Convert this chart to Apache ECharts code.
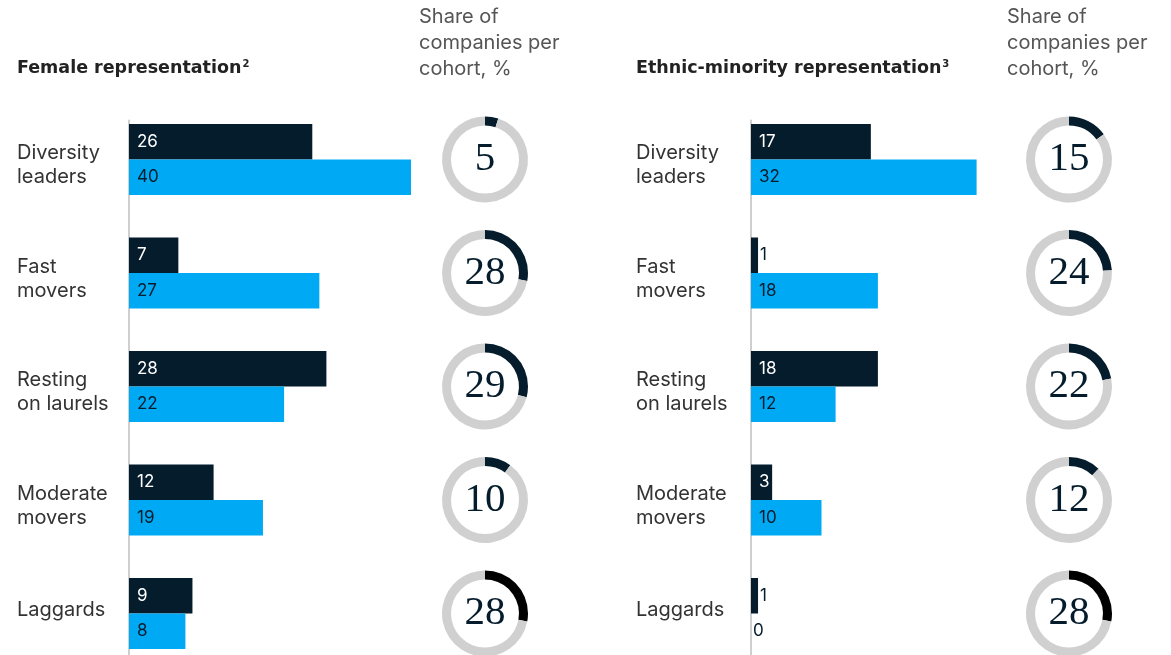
<!DOCTYPE html>
<html lang="en">
<head>
<meta charset="UTF-8"/>
<title>Representation by cohort</title>
<script src="https://cdn.jsdelivr.net/npm/echarts@6/dist/echarts.min.js"></script>
<style>
  body { margin: 0; background: #fff; }
  #main { width: 1171px; height: 655px; }
</style>
</head>
<body>
<div id="main"></div>
<script type="text/javascript">
// cohorts (top to bottom)
var categories = ['Diversity\nleaders', 'Fast\nmovers', 'Resting\non laurels', 'Moderate\nmovers', 'Laggards'];
// female representation, %: dark = earlier year, blue = latest year
var femaleEarlier = [26, 7, 28, 12, 9];
var femaleLatest = [40, 27, 22, 19, 8];
// ethnic-minority representation, %
var ethnicEarlier = [17, 1, 18, 3, 1];
var ethnicLatest = [32, 18, 12, 10, 0];
// share of companies per cohort, %
var femaleShare = [5, 28, 29, 10, 28];
var ethnicShare = [15, 24, 22, 12, 28];

var NAVY = '#051c2c';
var BLUE = '#00a9f4';
var RING = '#d0d0d0';
var SANS = 'Inter, "Open Sans", sans-serif';

var myChart = echarts.init(document.getElementById('main'));

// layout of the bar panels
var gridTop = 120.5;
var band = 113.5;
var barW = 35.5;
var panels = [
  { left: 129, donutX: 485, title: 'Female representation', sup: '2', titleX: 17, shareX: 419, earlier: femaleEarlier, latest: femaleLatest, share: femaleShare },
  { left: 751, donutX: 1069, title: 'Ethnic-minority representation', sup: '3', titleX: 636, shareX: 1007, earlier: ethnicEarlier, latest: ethnicLatest, share: ethnicShare }
];

function barData(values, inside) {
  return values.map(function (v) {
    if (v < 3) {
      return { value: v, label: { position: 'right', distance: 2, color: NAVY } };
    }
    return { value: v, label: { position: 'insideLeft', distance: 8, color: inside } };
  });
}

// category label sits level with the bar pair, not the whole band
function catLabel(v) {
  var lines = v.split('\n');
  return lines.map(function (l) { return '{a|' + l + '}'; }).join('\n') +
    '\n{' + (lines.length > 1 ? 'g' : 'h') + '| }';
}

var option = {
  backgroundColor: '#fff',
  animation: false,
  title: [],
  grid: [],
  xAxis: [],
  yAxis: [],
  series: []
};

panels.forEach(function (p, k) {
  option.title.push({
    text: '{t|' + p.title + '}{s|' + p.sup + '}',
    left: p.titleX,
    top: 59,
    padding: 0,
    textStyle: {
      rich: {
        t: { fontFamily: '"DejaVu Sans", sans-serif', fontSize: 17.5, fontWeight: 'bold', color: '#222' },
        s: { fontFamily: '"DejaVu Sans", sans-serif', fontSize: 10, fontWeight: 'bold', color: '#222', padding: [0, 0, 9, 1] }
      }
    }
  });
  option.title.push({
    text: 'Share of\ncompanies per\ncohort, %',
    left: p.shareX,
    top: 4,
    padding: 0,
    textStyle: { fontFamily: SANS, fontSize: 20, fontWeight: 'normal', color: '#555', lineHeight: 26 }
  });

  option.grid.push({ left: p.left, top: gridTop, width: 282, height: band * 5, outerBoundsMode: 'none' });
  option.xAxis.push({
    gridIndex: k, type: 'value', min: 0, max: 40, show: false
  });
  option.yAxis.push({
    gridIndex: k,
    type: 'category',
    inverse: true,
    data: categories,
    axisLine: { show: true, lineStyle: { color: '#cfcfcf', width: 2 } },
    axisTick: { show: false },
    axisLabel: {
      align: 'left',
      margin: p.left - p.titleX,
      formatter: catLabel,
      rich: {
        a: { fontFamily: SANS, fontSize: 20, lineHeight: 24, color: '#333' },
        g: { fontSize: 10, lineHeight: 24 },
        h: { fontSize: 10, lineHeight: 42 }
      }
    }
  });

  var labelBase = { show: true, fontFamily: SANS, fontSize: 17 };
  option.series.push({
    type: 'bar', xAxisIndex: k, yAxisIndex: k, barWidth: barW, barGap: '0%',
    itemStyle: { color: NAVY },
    label: labelBase,
    data: barData(p.earlier, '#fff')
  });
  option.series.push({
    type: 'bar', xAxisIndex: k, yAxisIndex: k, barWidth: barW, barGap: '0%',
    itemStyle: { color: BLUE },
    label: labelBase,
    data: barData(p.latest, NAVY)
  });
  // empty spacer keeps the bar pair in the upper part of each band
  option.series.push({
    type: 'bar', xAxisIndex: k, yAxisIndex: k, barWidth: barW, barGap: '0%', silent: true,
    data: p.latest.map(function () { return '-'; })
  });

  // donuts: share of companies per cohort
  p.share.forEach(function (v, i) {
    var cy = gridTop + (i + 0.5) * band - barW / 2;
    option.series.push({
      type: 'pie',
      silent: true,
      center: [p.donutX, cy],
      radius: [34, 43],
      startAngle: 90,
      clockwise: true,
      labelLine: { show: false },
      data: [
        {
          value: v,
          itemStyle: { color: i === 4 ? '#000' : NAVY },
          label: {
            show: true, position: 'center', formatter: '{c}',
            fontFamily: '"Liberation Serif", "DejaVu Serif", serif', fontSize: 41, color: NAVY
          }
        },
        { value: 100 - v, itemStyle: { color: RING }, label: { show: false } }
      ]
    });
  });
});

myChart.setOption(option);
</script>
</body>
</html>
